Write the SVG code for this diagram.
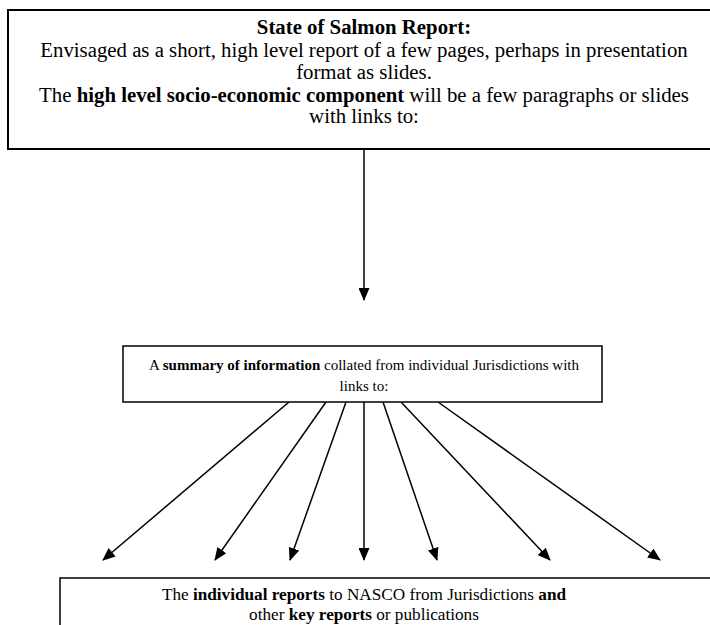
<svg xmlns="http://www.w3.org/2000/svg" width="710" height="625" viewBox="0 0 710 625">
<style>
.box{fill:#fff;stroke:#000;stroke-width:1.5}
.t{font-family:'Liberation Serif','Tinos','Times New Roman','DejaVu Serif',serif;fill:#000;text-anchor:middle}
.big{font-size:20.8px}
.mid{font-size:15px}
.sm{font-size:17.2px}
.b{font-weight:bold}
.c{stroke:#000;stroke-width:1.5;fill:none;marker-end:url(#ah)}
</style>
<defs>
<marker id="ah" markerWidth="13" markerHeight="11" refX="12" refY="5.5" orient="auto" markerUnits="userSpaceOnUse">
<path d="M0,0 L13,5.5 L0,11 Z" fill="#000"/>
</marker>
</defs>
<g id="connectors">
<line class="c" x1="364" y1="149" x2="364" y2="300"/>
<line class="c" x1="289" y1="402" x2="103" y2="560"/>
<line class="c" x1="326" y1="402" x2="215" y2="560"/>
<line class="c" x1="346" y1="402" x2="290" y2="560"/>
<line class="c" x1="364" y1="402" x2="364" y2="560"/>
<line class="c" x1="383" y1="402" x2="437" y2="560"/>
<line class="c" x1="401" y1="402" x2="550" y2="560"/>
<line class="c" x1="438" y1="402" x2="660" y2="560"/>
</g>
<g id="node-state">
<rect class="box" x="8" y="10" width="720" height="139" style="stroke-width:2"/>
<text class="t big" x="364" y="34"><tspan class="b">State of Salmon Report:</tspan></text>
<text class="t big" x="364" y="57">Envisaged as a short, high level report of a few pages, perhaps in presentation</text>
<text class="t big" x="364" y="79">format as slides.</text>
<text class="t big" x="364" y="102">The <tspan class="b">high level socio-economic component</tspan> will be a few paragraphs or slides</text>
<text class="t big" x="364" y="123">with links to:</text>
</g>
<g id="node-summary">
<rect class="box" x="123" y="346" width="479" height="56"/>
<text class="t mid" x="364" y="370">A <tspan class="b">summary of information</tspan> collated from individual Jurisdictions with</text>
<text class="t mid" x="364" y="391">links to:</text>
</g>
<g id="node-individual">
<rect class="box" x="60" y="578" width="680" height="80"/>
<text class="t sm" x="364" y="600">The <tspan class="b">individual reports</tspan> to NASCO from Jurisdictions <tspan class="b">and</tspan></text>
<text class="t sm" x="364" y="620">other <tspan class="b">key reports</tspan> or publications</text>
</g>
</svg>
